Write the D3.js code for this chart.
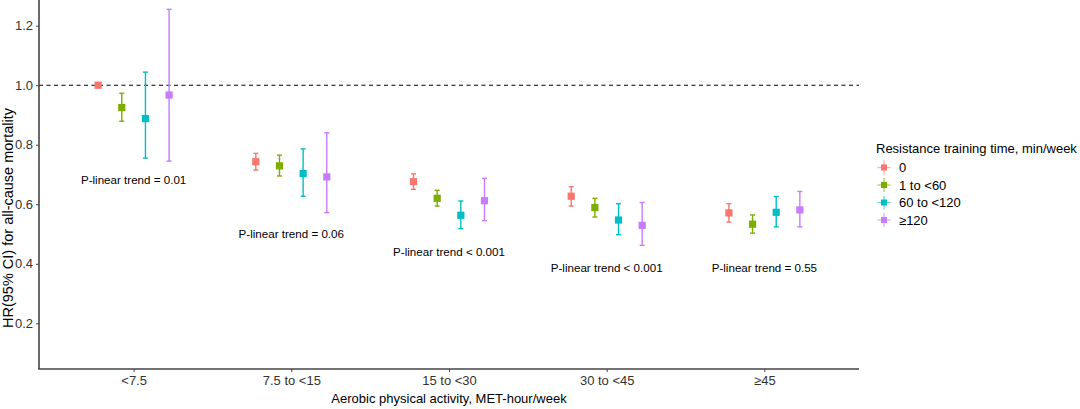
<!DOCTYPE html>
<html>
<head>
<meta charset="utf-8">
<script src="https://cdn.jsdelivr.net/npm/d3@7"></script>
<style>
  body { margin: 0; background: #fff; }
  svg { font-family: "Liberation Sans", Arial, sans-serif; display: block; }
</style>
</head>
<body>
<svg id="chart" width="1080" height="409"></svg>
<script>
// aerobic activity groups (x axis)
var categories = ["<7.5", "7.5 to <15", "15 to <30", "30 to <45", "\u226545"];
// resistance training groups (legend)
var series = ["0", "1 to <60", "60 to <120", "\u2265120"];
var colors = ["#F8766D", "#7CAE00", "#00BFC4", "#C77CFF"];

// hazard ratios, one row per series, one value per category
var hr = [
    [1.00, 0.743, 0.676, 0.627, 0.571],
    [0.925, 0.729, 0.620, 0.589, 0.533],
    [0.888, 0.703, 0.563, 0.547, 0.573],
    [0.967, 0.692, 0.612, 0.529, 0.581]
];
var lower = [
    [1.00, 0.715, 0.650, 0.594, 0.540],
    [0.879, 0.695, 0.594, 0.557, 0.503],
    [0.755, 0.627, 0.518, 0.498, 0.524],
    [0.745, 0.572, 0.545, 0.462, 0.524]
];
var upper = [
    [1.00, 0.771, 0.702, 0.659, 0.602],
    [0.973, 0.765, 0.647, 0.620, 0.564],
    [1.044, 0.786, 0.611, 0.602, 0.626],
    [1.255, 0.840, 0.687, 0.606, 0.643]
];
var trendLabels = ["P-linear trend = 0.01", "P-linear trend = 0.06", "P-linear trend < 0.001",
    "P-linear trend < 0.001", "P-linear trend = 0.55"];
var trendY = [0.683, 0.499, 0.440, 0.387, 0.387];
var yTicks = [0.2, 0.4, 0.6, 0.8, 1.0, 1.2];

var svg = d3.select("#chart");
var left = 39, right = 859, bottom = 369;

var x = d3.scalePoint()
    .domain(categories)
    .range([left, right])
    .padding(0.6);

var dodge = d3.scaleBand()
    .domain(series)
    .range([-x.step() * 0.3, x.step() * 0.3]);

var y = d3.scaleLinear()
    .domain([0.2, 1.2])
    .range([323.3, 25.7]);

// reference line at HR = 1
svg.append("line")
    .attr("x1", left).attr("x2", right)
    .attr("y1", y(1)).attr("y2", y(1))
    .attr("stroke", "#000")
    .attr("stroke-width", 1.1)
    .attr("stroke-dasharray", "4,3.5");

// points + error bars
var points = [];
series.forEach(function (s, si) {
    categories.forEach(function (c, ci) {
        points.push({
            s: s, si: si, c: c,
            hr: hr[si][ci], lo: lower[si][ci], hi: upper[si][ci]
        });
    });
});

var g = svg.selectAll(".pt")
    .data(points)
    .enter()
    .append("g")
    .attr("class", "pt")
    .attr("transform", function (d) {
        return "translate(" + (x(d.c) + dodge(d.s) + dodge.bandwidth() / 2) + ",0)";
    });

g.append("line")
    .attr("y1", function (d) { return y(d.lo); })
    .attr("y2", function (d) { return y(d.hi); })
    .attr("stroke", function (d) { return colors[d.si]; })
    .attr("stroke-width", 1.4);

g.selectAll(".cap")
    .data(function (d) { return [d.lo, d.hi].map(function (v) { return {v: v, si: d.si}; }); })
    .enter()
    .append("line")
    .attr("x1", -2.5).attr("x2", 2.5)
    .attr("y1", function (d) { return y(d.v); })
    .attr("y2", function (d) { return y(d.v); })
    .attr("stroke", function (d) { return colors[d.si]; })
    .attr("stroke-width", 1.4);

g.append("rect")
    .attr("x", -3.6).attr("width", 7.2)
    .attr("y", function (d) { return y(d.hr) - 3.6; })
    .attr("height", 7.2)
    .attr("fill", function (d) { return colors[d.si]; });

// trend annotations
svg.selectAll(".trend")
    .data(categories)
    .enter()
    .append("text")
    .attr("class", "trend")
    .attr("x", function (d) { return x(d); })
    .attr("y", function (d, i) { return y(trendY[i]); })
    .attr("dy", "0.35em")
    .attr("text-anchor", "middle")
    .attr("font-size", 11.6)
    .attr("fill", "#000")
    .text(function (d, i) { return trendLabels[i]; });

// axes
var yAxis = svg.append("g")
    .attr("transform", "translate(" + left + ",0)")
    .call(d3.axisLeft(y).tickValues(yTicks).tickFormat(d3.format(".1f")).tickSize(3).tickPadding(3));
yAxis.select(".domain").remove();
yAxis.append("line")
    .attr("y1", 0).attr("y2", bottom)
    .attr("stroke", "#444").attr("stroke-width", 1.6);

var xAxis = svg.append("g")
    .attr("transform", "translate(0," + bottom + ")")
    .call(d3.axisBottom(x).tickSize(3).tickPadding(4));
xAxis.select(".domain").remove();
xAxis.append("line")
    .attr("x1", left - 0.8).attr("x2", right)
    .attr("stroke", "#444").attr("stroke-width", 1.6);

svg.selectAll(".tick line").attr("stroke", "#444");
svg.selectAll(".tick text")
    .attr("font-size", 13)
    .attr("fill", "#333")
    .style("font-family", "'Liberation Sans', Arial, sans-serif");

// axis titles
svg.append("text")
    .attr("transform", "translate(13,218) rotate(-90)")
    .attr("text-anchor", "middle")
    .attr("font-size", 14.5)
    .attr("fill", "#000")
    .text("HR(95% CI) for all-cause mortality");

svg.append("text")
    .attr("x", (left + right) / 2)
    .attr("y", 403)
    .attr("text-anchor", "middle")
    .attr("font-size", 13)
    .attr("fill", "#000")
    .text("Aerobic physical activity, MET-hour/week");

// legend
var legend = svg.append("g").attr("transform", "translate(876,0)");
legend.append("text")
    .attr("x", 0).attr("y", 148)
    .attr("dy", "0.35em")
    .attr("font-size", 13)
    .attr("fill", "#000")
    .text("Resistance training time, min/week");

var item = legend.selectAll(".item")
    .data(series)
    .enter()
    .append("g")
    .attr("class", "item")
    .attr("transform", function (d, i) { return "translate(8," + (167.5 + i * 17.5) + ")"; });

item.append("line")
    .attr("x1", -6.5).attr("x2", 6.5)
    .attr("stroke", function (d, i) { return colors[i]; })
    .attr("stroke-opacity", 0.6)
    .attr("stroke-width", 1.3);
item.append("line")
    .attr("y1", -7).attr("y2", 7)
    .attr("stroke", function (d, i) { return colors[i]; })
    .attr("stroke-opacity", 0.6)
    .attr("stroke-width", 1.3);
item.append("rect")
    .attr("x", -3).attr("y", -3)
    .attr("width", 6).attr("height", 6)
    .attr("fill", function (d, i) { return colors[i]; });
item.append("text")
    .attr("x", 15)
    .attr("dy", "0.35em")
    .attr("font-size", 13)
    .attr("fill", "#000")
    .text(function (d) { return d; });
</script>
</body>
</html>
